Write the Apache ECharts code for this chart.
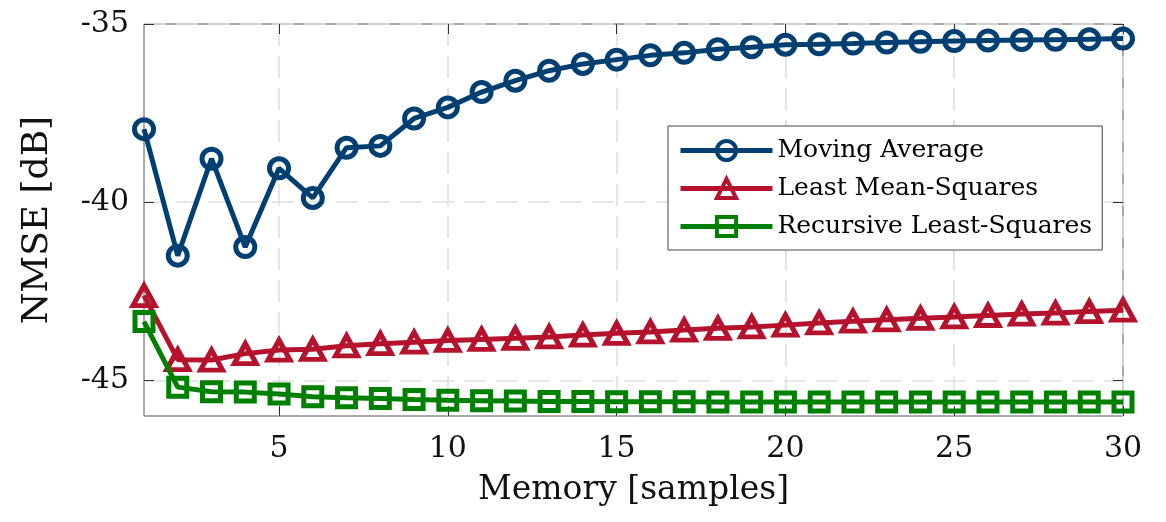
<!DOCTYPE html>
<html>
<head>
<meta charset="utf-8">
<script src="https://cdn.jsdelivr.net/npm/echarts@6/dist/echarts.min.js"></script>
<style>
html,body{margin:0;padding:0;background:#fff;}
#chart{width:1166px;height:522px;}
</style>
</head>
<body>
<div id="chart"></div>
<script>
const memory = [1,2,3,4,5,6,7,8,9,10,11,12,13,14,15,16,17,18,19,20,21,22,23,24,25,26,27,28,29,30];
const movingAverage = [-37.95,-41.50,-38.78,-41.26,-39.05,-39.88,-38.47,-38.42,-37.65,-37.34,-36.91,-36.59,-36.31,-36.12,-36.00,-35.88,-35.81,-35.71,-35.65,-35.58,-35.57,-35.55,-35.52,-35.50,-35.48,-35.46,-35.45,-35.44,-35.43,-35.41];
const leastMeanSquares = [-42.62,-44.42,-44.43,-44.25,-44.15,-44.13,-44.03,-43.97,-43.93,-43.88,-43.85,-43.82,-43.78,-43.73,-43.68,-43.64,-43.59,-43.54,-43.50,-43.45,-43.39,-43.34,-43.30,-43.26,-43.22,-43.18,-43.14,-43.11,-43.07,-43.03];
const recursiveLeastSquares = [-43.35,-45.19,-45.32,-45.33,-45.38,-45.46,-45.49,-45.51,-45.54,-45.56,-45.57,-45.58,-45.59,-45.59,-45.60,-45.60,-45.60,-45.61,-45.61,-45.61,-45.61,-45.61,-45.61,-45.61,-45.61,-45.61,-45.61,-45.61,-45.61,-45.61];
const seriesNames = ['Moving Average','Least Mean-Squares','Recursive Least-Squares'];
const xTicks = [5,10,15,20,25,30];
const yTicks = [-45,-40,-35];

const FONT = 'DejaVu Serif';
const colors = ['#003f72','#b5122e','#008000'];
const symbols = ['circle','triangle','rect'];
const symbolSizes = [19,[22,20],18];
const allData = [movingAverage, leastMeanSquares, recursiveLeastSquares];

const chart = echarts.init(document.getElementById('chart'), null, {renderer:'canvas'});

const gridLine = {show:true, lineStyle:{color:'#dedede', width:1.5, type:[22,10]}};
const tickStyle = {show:true, inside:true, length:10, lineStyle:{color:'#333', width:1}};

const series = allData.map((vals, i) => ({
  name: seriesNames[i],
  type: 'line',
  xAxisIndex: 0, yAxisIndex: 0,
  data: memory.map((m, j) => [m, vals[j]]),
  symbol: symbols[i],
  symbolSize: symbolSizes[i],
  showSymbol: true,
  lineStyle: {color: colors[i], width: 5},
  itemStyle: {color: 'rgba(255,255,255,0)', borderColor: colors[i], borderWidth: 5},
  z: 3 + i,
  animation: false
}));

chart.setOption({
  animation: false,
  grid: {left:144, top:24, right:43, bottom:106, show:true, borderColor:'#555', borderWidth:1, backgroundColor:'#fff'},
  xAxis: [{
    type:'value', min:1, max:30, position:'bottom',
    name:'Memory [samples]', nameLocation:'middle', nameGap:58,
    nameTextStyle:{fontFamily:FONT, fontSize:33, color:'#111'},
    axisLine:{show:false},
    axisTick:Object.assign({customValues:xTicks}, tickStyle),
    axisLabel:{customValues:xTicks, fontFamily:FONT, fontSize:30, color:'#111', margin:18},
    splitLine:gridLine
  },{
    type:'value', min:1, max:30, position:'top',
    axisLine:{show:false},
    axisTick:Object.assign({customValues:xTicks}, tickStyle),
    axisLabel:{show:false},
    splitLine:{show:false}
  }],
  yAxis: [{
    type:'value', min:-46, max:-35, position:'left',
    name:'NMSE [dB]', nameLocation:'middle', nameGap:88,
    nameTextStyle:{fontFamily:FONT, fontSize:36, color:'#111'},
    axisLine:{show:false},
    axisTick:Object.assign({customValues:yTicks}, tickStyle),
    axisLabel:{customValues:yTicks, fontFamily:FONT, fontSize:30, color:'#111', margin:15, formatter: v => String(v)},
    splitLine:gridLine
  },{
    type:'value', min:-46, max:-35, position:'right',
    axisLine:{show:false},
    axisTick:Object.assign({customValues:yTicks}, tickStyle),
    axisLabel:{show:false},
    splitLine:{show:false}
  }],
  legend: {
    orient:'vertical', left:668, top:126,
    padding:[12,10,11,10], itemGap:13, itemWidth:92, itemHeight:24,
    borderColor:'#444', borderWidth:1, backgroundColor:'#fff',
    lineStyle:{width:5},
    itemStyle:{borderWidth:4},
    textStyle:{fontFamily:FONT, fontSize:25, color:'#000'},
    data: seriesNames
  },
  series: series
});
</script>
</body>
</html>
